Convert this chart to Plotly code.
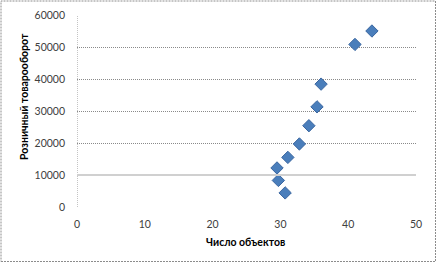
import plotly.graph_objects as go

W, H = 437, 263
objects_count = [43.5, 41.0, 36.0, 35.4, 34.2, 32.8, 31.1, 29.5, 29.7, 30.7]
retail_turnover = [55000, 50800, 38400, 31300, 25400, 19700, 15500, 12200, 8300, 4400]
x_ticks = [0, 10, 20, 30, 40, 50]
y_ticks = [0, 10000, 20000, 30000, 40000, 50000, 60000]
y_tick_labels = [str(v) for v in y_ticks]
x_tick_labels = [str(v) for v in x_ticks]
x_title = "Число объектов"
y_title = "Розничный товарооборот"

# plot area in pixels
L, R, T, B = 77, 416, 15, 207

fig = go.Figure()
fig.add_trace(go.Scatter(
    x=objects_count, y=retail_turnover, mode="markers",
    marker=dict(symbol="diamond", size=9.5, color="#4a7ebb",
                line=dict(color="#3a66a0", width=1)),
    showlegend=False, hoverinfo="skip"))

font = dict(family="Lato, Carlito, sans-serif", size=10.5, color="#404040")
tfont = dict(family="Lato, Carlito, sans-serif", size=10.5, color="#000000")
fig.update_layout(
    width=W, height=H, margin=dict(l=0, r=0, t=0, b=0),
    paper_bgcolor="white", plot_bgcolor="white", font=font,
    xaxis=dict(domain=[L / W, R / W], range=[0, 50], tickvals=x_ticks,
               ticktext=x_tick_labels,
               showgrid=False, zeroline=False, showline=False,
               ticks="", automargin=False, tickfont=font, ticklabelstandoff=9),
    yaxis=dict(domain=[1 - B / H, 1 - T / H], range=[0, 60000], tickvals=y_ticks,
               ticktext=y_tick_labels,
               showgrid=True, gridcolor="#8a8a8a", griddash="1px,1px", gridwidth=1,
               zeroline=False, showline=False, ticks="", automargin=False,
               tickfont=font, ticklabelstandoff=11),
)
# light solid line at 10000 seen in reference
fig.add_shape(type="line", xref="x", yref="y", x0=0, x1=50, y0=10000, y1=10000,
              line=dict(color="#d0d0d0", width=2), layer="above")
# dotted left axis line
fig.add_shape(type="line", xref="x", yref="y", x0=0, x1=0, y0=0, y1=60000,
              line=dict(color="#8a8a8a", width=1, dash="1px,1px"), layer="below")
# outer chart border
fig.add_shape(type="rect", xref="paper", yref="paper",
              x0=1 / W, x1=1 - 1.5 / W, y0=1.5 / H, y1=1 - 1 / H,
              line=dict(color="#8c8c8c", width=1, dash="2px,1px"))

fig.add_annotation(text=f"<b>{x_title}</b>", xref="paper", yref="paper",
                   x=246 / W, y=1 - 242 / H, xanchor="center", yanchor="middle",
                   showarrow=False, font=tfont)
fig.add_annotation(text=f"<b>{y_title}</b>", xref="paper", yref="paper",
                   x=24 / W, y=1 - 97 / H, xanchor="center", yanchor="middle",
                   showarrow=False, textangle=-90, font=tfont)

fig.write_html("out.html")
